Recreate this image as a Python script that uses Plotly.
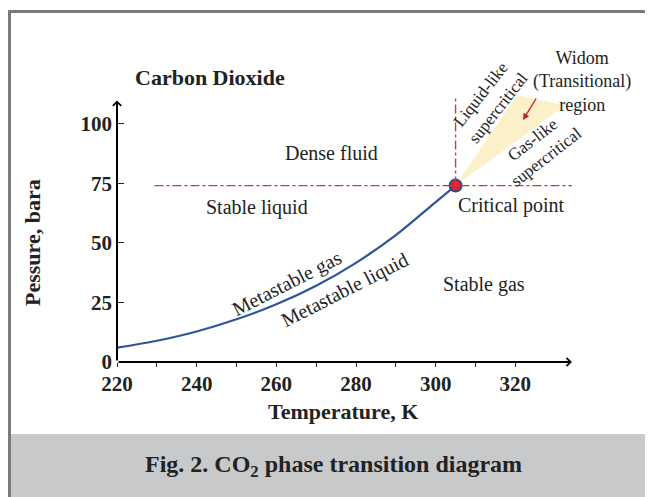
import plotly.graph_objects as go

# ---- data ----
temps_K = [220, 230, 240, 250, 260, 270, 280, 290, 300, 305]
sat_pressure_bar = [6.0, 8.9, 12.8, 17.9, 24.2, 32.0, 41.6, 53.2, 67.1, 74.0]
critical_T = [305]
critical_P = [74]
widom_T = [305, 320.4, 332.6, 305]
widom_P = [74, 111.9, 107.7, 74]
x_tick_vals = [220, 240, 260, 280, 300, 320]
x_minor_vals = [230, 250, 270, 290, 310]
y_tick_vals = [0, 25, 50, 75, 100]
crit_line_T_span = [229.4, 334.2]
crit_line_P_span = [74, 110.9]
x_axis_end = 334.2
y_axis_end = 109.7

# page body has an 8px margin, so the figure is placed at (8, 8) in the window
OFF = 8
W, H = 645, 489
L, R, T, B = 109, 58, 80, 135
PW, PH = W - L - R, H - T - B
FONT = "Liberation Serif"


def px(x):  # window pixel -> paper
    return (x - OFF - L) / PW


def py(y):  # window pixel -> paper
    return (H - B - (y - OFF)) / PH


fig = go.Figure()

# Widom wedge
fig.add_trace(go.Scatter(x=widom_T, y=widom_P, mode="lines", fill="toself",
                         fillcolor="#fcf0c8", line=dict(width=0, color="#fcf0c8"),
                         hoverinfo="skip", showlegend=False))

# critical dash-dot lines
fig.add_shape(type="line", xref="x", yref="y", x0=crit_line_T_span[0], x1=crit_line_T_span[1],
              y0=critical_P[0], y1=critical_P[0], line=dict(color="#d03a3a", width=1.4, dash="dashdot"))
fig.add_shape(type="line", xref="x", yref="y", x0=critical_T[0], x1=critical_T[0],
              y0=crit_line_P_span[0], y1=crit_line_P_span[1], line=dict(color="#d03a3a", width=1.4, dash="dashdot"))

# saturation curve
fig.add_trace(go.Scatter(x=temps_K, y=sat_pressure_bar, mode="lines",
                         line=dict(color="#2f5596", width=2.2, shape="spline"),
                         showlegend=False, hoverinfo="skip"))

# critical point
fig.add_trace(go.Scatter(x=critical_T, y=critical_P, mode="markers",
                         marker=dict(size=12, color="#e8202c", line=dict(color="#2b4a8b", width=2)),
                         showlegend=False, hoverinfo="skip"))

annotations = []
# axis arrows
annotations.append(dict(x=x_axis_end, y=0, ax=220, ay=0, xref="x", yref="y", axref="x", ayref="y",
                        text="", showarrow=True, arrowhead=4, arrowsize=0.8, arrowwidth=2, arrowcolor="black"))
annotations.append(dict(x=220, y=y_axis_end, ax=220, ay=0, xref="x", yref="y", axref="x", ayref="y",
                        text="", showarrow=True, arrowhead=4, arrowsize=0.8, arrowwidth=2, arrowcolor="black"))


def label(text, x, y, size=20, angle=0, bold=False, color="#222222", xanchor="center"):
    annotations.append(dict(x=px(x), y=py(y), xref="paper", yref="paper", text=text,
                            showarrow=False, textangle=angle, xanchor=xanchor, yanchor="middle",
                            font=dict(family=FONT, size=size, color=color,
                                      weight="bold" if bold else "normal")))


label("Carbon Dioxide", 210, 77, size=22, bold=True)
label("Dense fluid", 331, 153)
label("Stable liquid", 257, 207)
label("Critical point", 456, 205, xanchor="left")
label("Stable gas", 484, 284)
label("Metastable gas", 287, 283, angle=-27)
label("Metastable liquid", 344, 290, angle=-27)
label("Liquid-like<br>supercritical", 489, 101, size=17, angle=-52)
label("Gas-like<br>supercritical", 539, 148, size=17, angle=-38)
label("Widom<br>(Transitional)<br>region", 582, 81, size=18)
label("Temperature, K", 343, 411, size=22, bold=True)
label("Pessure, bara", 32, 243, size=22, bold=True, angle=-90)
label("Fig. 2. CO<sub>2</sub> phase transition diagram", 333, 466, size=24, bold=True)

# red pointer
annotations.append(dict(x=px(523), y=py(120), ax=14, ay=-23, xref="paper", yref="paper",
                        axref="pixel", ayref="pixel", text="", showarrow=True, arrowhead=2,
                        arrowsize=1, arrowwidth=1.3, arrowcolor="#b5232a"))

shapes = [
    dict(type="rect", xref="paper", yref="paper", x0=px(9), x1=px(660), y0=py(434), y1=py(505),
         fillcolor="#c8c9cb", line=dict(width=0), layer="below"),
    dict(type="line", xref="paper", yref="paper", x0=px(9.5), x1=px(9.5), y0=py(11), y1=py(505),
         line=dict(color="#7a7a7a", width=3)),
    dict(type="line", xref="paper", yref="paper", x0=px(8), x1=px(660), y0=py(11.5), y1=py(11.5),
         line=dict(color="#7a7a7a", width=3)),
]
for s in shapes:
    fig.add_shape(**s)

fig.update_layout(
    width=W, height=H, margin=dict(l=L, r=R, t=T, b=B, autoexpand=False),
    paper_bgcolor="white", plot_bgcolor="white",
    annotations=annotations, showlegend=False,
    font=dict(family=FONT, color="#222222"),
    xaxis=dict(range=[220, 340], tickmode="array", tickvals=x_tick_vals, ticks="outside",
               ticklen=4, tickwidth=1.3, tickcolor="#222222", showline=False, showgrid=False,
               zeroline=False, tickfont=dict(family=FONT, size=21, weight="bold", color="#222222"),
               minor=dict(tickvals=x_minor_vals, ticks="outside", ticklen=4, tickwidth=1.3,
                          tickcolor="#222222"),
               ticklabelstandoff=-1),
    yaxis=dict(range=[0, PH / 2.384], tickmode="array", tickvals=y_tick_vals, ticks="inside",
               ticklen=7, tickwidth=1.3, tickcolor="#222222", showline=False, showgrid=False,
               zeroline=False, tickfont=dict(family=FONT, size=21, weight="bold", color="#222222"),
               ticklabelstandoff=4),
)

fig.write_html("out.html")
